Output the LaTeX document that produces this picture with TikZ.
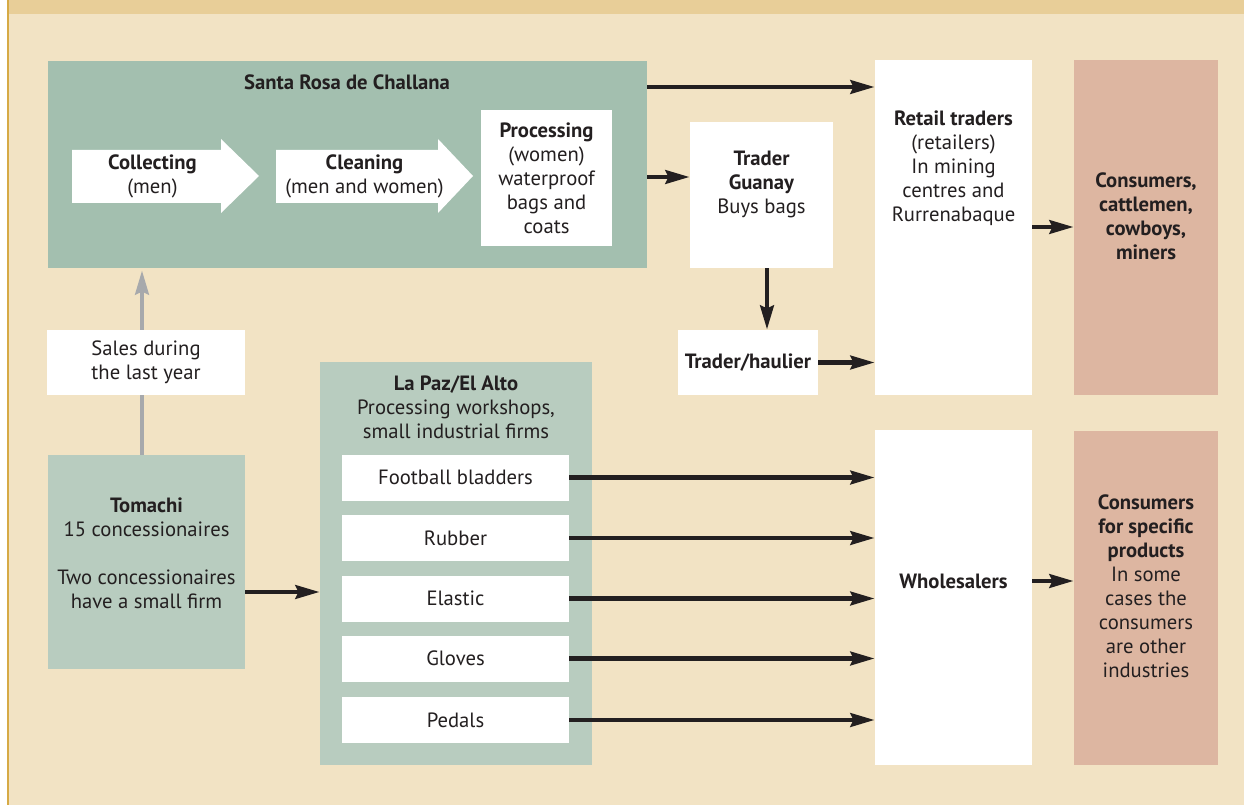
\documentclass[tikz,border=0pt]{standalone}
\usepackage{fontspec}
\setmainfont{PT Sans}
\usetikzlibrary{arrows.meta}
\definecolor{bg}{HTML}{F2E3C4}
\definecolor{hdr}{HTML}{E8CE98}
\definecolor{gold}{HTML}{D6AA45}
\definecolor{srgreen}{HTML}{A3BFAF}
\definecolor{lgreen}{HTML}{B8CCBF}
\definecolor{rose}{HTML}{DDB6A1}
\definecolor{ink}{HTML}{231F20}
\definecolor{greyarr}{HTML}{A7A9AC}
\begin{document}
\begin{tikzpicture}[x=0.75pt,y=-0.75pt,
  every node/.style={font=\fontsize{15.5}{18}\selectfont, text=ink, align=center, inner sep=0pt},
  box/.style 2 args={minimum width={#1*0.75pt}, minimum height={#2*0.75pt}, draw=none},
  arr/.style={draw=ink, line width=3.6pt, -{Stealth[length=18pt,width=10pt,inset=2pt]}},
  garr/.style={draw=greyarr, line width=3.6pt, -{Stealth[length=18pt,width=10pt,inset=2pt]}},
  blockarrow/.style={fill=white}
]
\useasboundingbox (0,0) rectangle (1244,805);
\fill[white] (0,0) rectangle (1244,805);
\fill[bg] (8,0) rectangle (1244,805);
\fill[hdr] (8,0) rectangle (1244,14);
\draw[gold, line width=1.5pt] (8,0) -- (8,805);

% Santa Rosa de Challana
\node[box={599}{207}, fill=srgreen] (sr) at (347.5,164.5) {};
\node (srt) at (347,82) {\textbf{Santa Rosa de Challana}};
\fill[blockarrow] (72,150) -- (221,150) -- (221,139) -- (259,176) -- (221,213) -- (221,203) -- (72,203) -- cycle;
\fill[blockarrow] (276,150) -- (438,150) -- (438,139) -- (473,176) -- (438,213) -- (438,203) -- (276,203) -- cycle;
\node (coll) at (152.5,176) {\textbf{Collecting}\\(men)};
\node (clean) at (364.5,176) {\textbf{Cleaning}\\(men and women)};
\node[box={131}{136}, fill=white] (proc) at (546.5,178) {\textbf{Processing}\\(women)\\waterproof\\bags and\\coats};

% Traders
\node[box={143}{146}, fill=white] (tg) at (761.5,195) {};
\node (tgt) at (761.5,184) {\textbf{Trader}\\\textbf{Guanay}\\Buys bags};
\node[box={140}{65}, fill=white] (th) at (748,362.5) {\textbf{Trader/haulier}};
\node[box={157}{335}, fill=white] (ret) at (953.5,227.5) {};
\node (rett) at (953.5,168.5) {\textbf{Retail traders}\\(retailers)\\In mining\\centres and\\Rurrenabaque};
\node[box={144}{335}, fill=rose] (cons) at (1146,227.5) {};
\node (const) at (1146,216) {\textbf{Consumers,}\\\textbf{cattlemen,}\\\textbf{cowboys,}\\\textbf{miners}};

% Sales and Tomachi
\node[box={197}{214}, fill=lgreen] (tom) at (146.5,562) {};
\draw[garr] (tom.north -| 142,0) -- ([yshift=-1.5pt]sr.south -| 142,0);
\node[box={198}{65}, fill=white] (sales) at (146,362.5) {Sales during\\the last year};
\node (tomt) at (146.5,553) {\textbf{Tomachi}\\15 concessionaires\\[18pt]Two concessionaires\\have a small firm};

% La Paz
\node[box={272}{403}, fill=lgreen] (lp) at (456,563.5) {};
\node (lpt) at (456,407) {\textbf{La Paz/El Alto}\\Processing workshops,\\small industrial firms};
\node[box={227}{46}, fill=white] (i1) at (455.5,477.5) {Football bladders};
\node[box={227}{46}, fill=white] (i2) at (455.5,538) {Rubber};
\node[box={227}{46}, fill=white] (i3) at (455.5,598.5) {Elastic};
\node[box={227}{46}, fill=white] (i4) at (455.5,658.5) {Gloves};
\node[box={227}{46}, fill=white] (i5) at (455.5,720) {Pedals};

% Wholesalers and specific consumers
\node[box={157}{335}, fill=white] (wh) at (953.5,597.5) {};
\node (wht) at (953.5,581) {\textbf{Wholesalers}};
\node[box={144}{334}, fill=rose] (cs) at (1146,598) {};
\node (cst) at (1146,586) {\textbf{Consumers}\\\textbf{for specific}\\\textbf{products}\\In some\\cases the\\consumers\\are other\\industries};

% Connectors
\draw[arr] (sr.east |- 0,87) -- (ret.west |- 0,87);
\draw[arr] (sr.east |- 0,177) -- (tg.west |- 0,177);
\draw[arr] (tg.south -| 767,0) -- (th.north -| 767,0);
\draw[arr] (th.east) -- (ret.west |- th.east);
\draw[arr] (ret.east |- 0,227) -- (cons.west |- 0,227);
\draw[arr] (tom.east |- 0,592) -- (lp.west |- 0,592);
\foreach \i in {i1,i2,i3,i4,i5} {\draw[arr] (\i.east) -- (wh.west |- \i.east);}
\draw[arr] (wh.east |- 0,581) -- (cs.west |- 0,581);
\end{tikzpicture}
\end{document}
